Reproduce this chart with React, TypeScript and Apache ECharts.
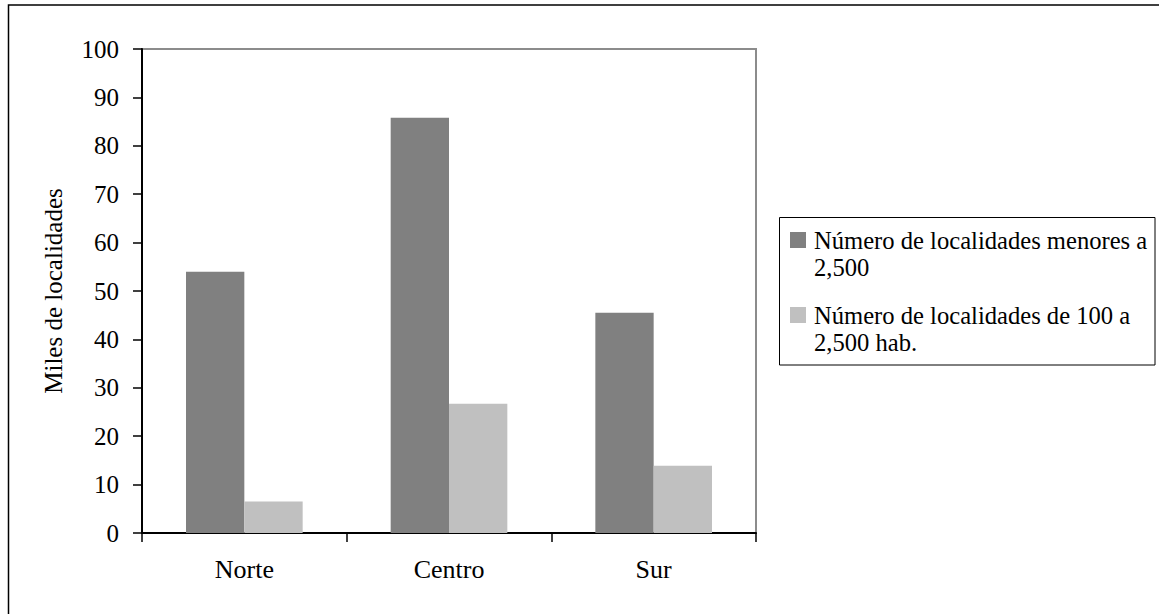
import React, { useEffect, useRef } from "react";
import * as echarts from "echarts";

const categories = ["Norte", "Centro", "Sur"];
const seriesNames = [
  "Número de localidades menores a\n2,500",
  "Número de localidades de 100 a\n2,500 hab.",
];
const menores = [54.0, 85.8, 45.5];
const de100a2500 = [6.5, 26.7, 13.9];
const yTicks = { min: 0, max: 100, interval: 10 };
const yTitle = "Miles de localidades";

const FONT = "'Liberation Serif', 'Times New Roman', serif";
const DARK = "#808080";
const LIGHT = "#C0C0C0";

export default function App() {
  const ref = useRef<HTMLDivElement>(null);
  useEffect(() => {
    if (!ref.current) return;
    const chart = echarts.init(ref.current, undefined, { renderer: "svg" });
    const legendItems = seriesNames.map((name, i) => {
      const top = i === 0 ? 232 : 307;
      return [
        {
          type: "rect",
          shape: { x: 790, y: top, width: 16, height: 16 },
          style: { fill: i === 0 ? DARK : LIGHT },
        },
        {
          type: "text",
          x: 814,
          y: top + 8 - 13.5,
          style: {
            text: name,
            font: `24.6px ${FONT}`,
            lineHeight: 27,
            fill: "#000",
            verticalAlign: "top",
            align: "left",
          },
        },
      ];
    }).flat();
    chart.setOption({
      animation: false,
      backgroundColor: "#fff",
      textStyle: { fontFamily: FONT },
      grid: {
        left: 142,
        top: 49,
        right: 403,
        bottom: 81,
        show: true,
        borderColor: "#8c8c8c",
        borderWidth: 2,
        containLabel: false,
      },
      xAxis: {
        type: "category",
        data: categories,
        axisLine: { lineStyle: { color: "#000", width: 2 } },
        axisTick: { show: true, length: 9, lineStyle: { color: "#000", width: 1.5 } },
        axisLabel: { color: "#000", fontSize: 26, fontFamily: FONT, margin: 23 },
        splitLine: { show: false },
      },
      yAxis: {
        type: "value",
        min: yTicks.min,
        max: yTicks.max,
        interval: yTicks.interval,
        name: yTitle,
        nameLocation: "middle",
        nameGap: 76,
        nameRotate: 90,
        nameTextStyle: { color: "#000", fontSize: 25, fontFamily: FONT },
        axisLine: { show: true, lineStyle: { color: "#000", width: 2 } },
        axisTick: { show: true, length: 9, lineStyle: { color: "#000", width: 1.5 } },
        axisLabel: { color: "#000", fontSize: 25, fontFamily: FONT, margin: 23 },
        splitLine: { show: false },
      },
      series: [
        {
          name: seriesNames[0],
          type: "bar",
          data: menores,
          itemStyle: { color: DARK },
          barGap: "0%",
          barCategoryGap: "43%",
        },
        {
          name: seriesNames[1],
          type: "bar",
          data: de100a2500,
          itemStyle: { color: LIGHT },
          barGap: "0%",
          barCategoryGap: "43%",
        },
      ],
      graphic: [
        {
          type: "rect",
          shape: { x: 8.5, y: 5, width: 1300, height: 800 },
          style: { fill: "none", stroke: "#000", lineWidth: 1.5 },
          silent: true,
        },
        {
          type: "rect",
          shape: { x: 779.5, y: 217.5, width: 375.5, height: 147.5 },
          style: { fill: "#fff", stroke: "#000", lineWidth: 1 },
        },
        ...legendItems,
      ],
    });
    return () => chart.dispose();
  }, []);
  return (
    <div
      ref={ref}
      style={{ position: "absolute", left: 0, top: 0, width: 1159, height: 614 }}
    />
  );
}
